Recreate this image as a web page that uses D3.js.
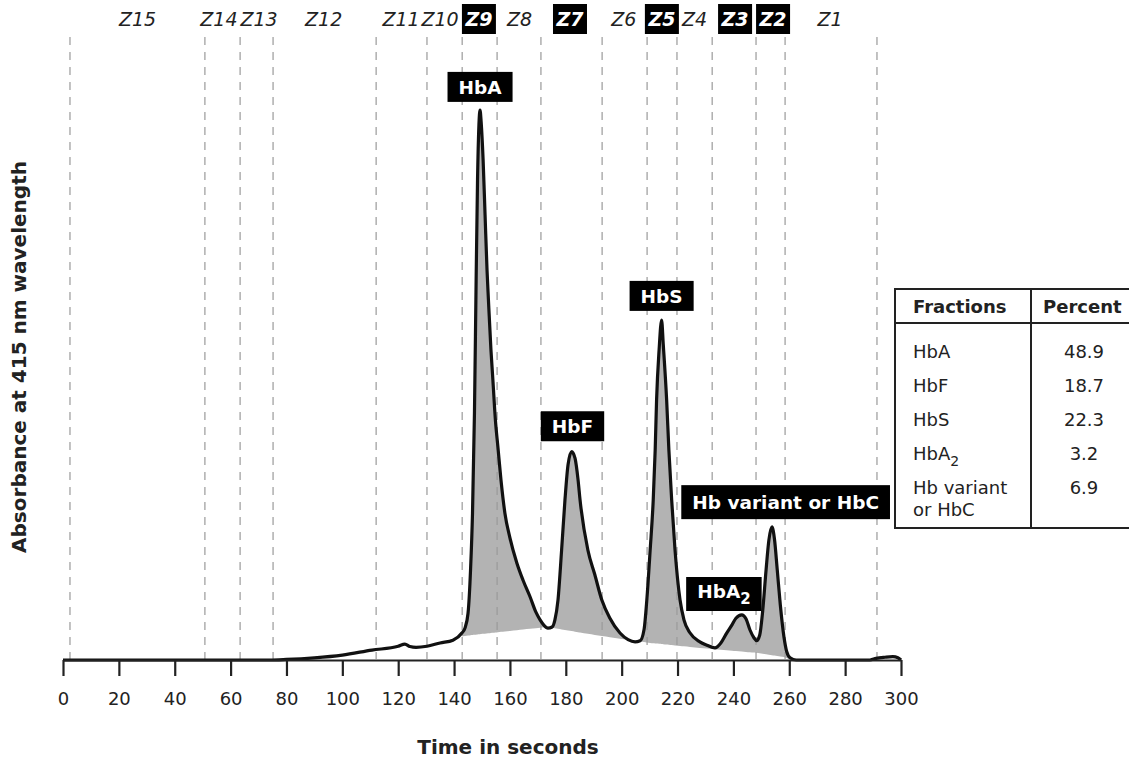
<!DOCTYPE html>
<html>
<head>
<meta charset="utf-8">
<script src="https://cdn.jsdelivr.net/npm/d3@7"></script>
<style>
  body { margin: 0; background: #fff; }
  svg { display: block; font-family: "DejaVu Sans", Verdana, sans-serif; }
</style>
</head>
<body>
<div id="chart"></div>
<script>
// Capillary electrophoresis trace.
const traceTime = [0, 74, 80, 90, 100, 110.6, 120, 122.4, 124.2, 126.4, 130.3, 135, 139.6,
  142.8, 143.9, 145.0, 145.9, 146.6, 147.3, 147.9, 148.4, 148.9, 149.3, 149.7, 150.4, 151.1,
  151.8, 152.3, 153.2, 153.9, 154.8, 155.7, 156.8, 158.2, 160.0, 162.5, 164.7, 167.2, 169.3,
  170.8, 172.2, 173.6, 175.1, 176.1, 177.2, 178.5, 179.7, 180.8, 182.1, 183.3, 184.4, 185.1,
  187.9, 190.4, 192.9, 195.8, 199.4, 202.3, 204.8, 206.6, 208.0, 209.0, 210.2, 211.3, 212.0,
  212.5, 213.4, 214.3, 214.9, 216.1, 216.9, 217.9, 219.1, 220.9, 222.3, 224.5, 228.0, 230.5,
  233.4, 235.5, 237.6, 239.5, 240.9, 243.0, 244.5, 245.9, 247.4, 248.3, 249.4, 250.5, 251.7,
  252.7, 253.8, 254.7, 255.7, 256.8, 258.1, 259.1, 260.3, 262.5, 288.9, 291.1, 294.3, 297.1,
  298.9, 300];
const traceAbs = [0, 0, 0.1, 0.4, 0.9, 1.8, 2.5, 2.9, 2.45, 2.3, 2.5, 3.1, 3.6,
  4.9, 5.8, 8.5, 16.4, 26.7, 44.9, 69.1, 87.3, 97.3, 100, 97.8, 90.9, 80.9,
  70.9, 65.5, 56.4, 50.9, 43.6, 38.7, 32.7, 26.7, 22.2, 17.6, 14.5, 11.5, 8.7,
  7.3, 6.3, 5.8, 6.0, 7.3, 10.9, 20.0, 29.1, 35.5, 37.9, 36.7, 32.7, 29.1,
  20.0, 15.5, 10.9, 7.6, 4.9, 3.7, 3.3, 3.5, 5.5, 10.9, 20.0, 29.1, 38.2,
  47.3, 56.4, 61.8, 57.3, 47.3, 38.2, 29.1, 20.0, 10.9, 7.3, 4.9, 3.3, 2.7,
  2.2, 3.1, 4.9, 6.4, 7.6, 8.2, 7.5, 5.5, 4.0, 3.5, 4.5, 9.0, 16.4,
  21.8, 24.2, 22.0, 16.4, 10.0, 4.2, 1.5, 0.4, 0, 0, 0.3, 0.5, 0.6,
  0.4, 0];

// lower edge of the grey integrated area
const shadeTime = [142.5, 156.4, 173.3, 192.3, 210.2, 228.0, 248.5, 258.5, 260.8];
const shadeAbs = [4.3, 5.1, 6.0, 4.4, 3.1, 2.2, 1.3, 0.5, 0];

const zoneBounds = [2.5, 50.8, 63.4, 75.2, 112.1, 130.3, 142.9, 155.4, 171.1, 193.0,
  209.1, 219.8, 232.4, 248.1, 258.5, 291.4];
const zoneNames = ["Z15", "Z14", "Z13", "Z12", "Z11", "Z10", "Z9", "Z8", "Z7", "Z6",
  "Z5", "Z4", "Z3", "Z2", "Z1"];
const zoneLabelTime = [26.7, 55.8, 70.2, 93.3, 121.0, 135.0, 148.9, 163.4, 181.5, 200.8,
  214.4, 226.1, 240.6, 254.2, 274.6];
const zoneHighlighted = ["Z9", "Z7", "Z5", "Z3", "Z2"];

const peakNames = ["HbA", "HbF", "HbS", "HbA2", "Hb variant or HbC"];
const peakLabelTime = [149.3, 182.4, 214.3, 236.6, 258.7];
const peakLabelAbs = [104.2, 42.5, 66.2, 12.0, 28.7];

const fractionNames = ["HbA", "HbF", "HbS", "HbA2", "Hb variant|or HbC"];
const fractionPercents = ["48.9", "18.7", "22.3", "3.2", "6.9"];

const xTicks = d3.range(0, 301, 20);

const W = 1129, H = 762;
const x = d3.scaleLinear().domain([0, 300]).range([63, 901]);
const y = d3.scaleLinear().domain([0, 100]).range([660, 110]);

const svg = d3.select("#chart").append("svg").attr("width", W).attr("height", H);

const trace = traceTime.map((t, i) => ({ t, v: traceAbs[i] }));
const lower = d3.scaleLinear().domain(shadeTime).range(shadeAbs).clamp(true);

function zoneLines() {
  svg.append("g").selectAll("line").data(zoneBounds).join("line")
    .attr("x1", d => x(d)).attr("x2", d => x(d))
    .attr("y1", 37).attr("y2", 659)
    .attr("stroke", "#9a9a9a").attr("stroke-width", 1.2)
    .attr("stroke-dasharray", "8,7");
}

// grey area under the peaks, dashes go on top of it
const shaded = trace.filter(d => d.t >= shadeTime[0] && d.t <= shadeTime[shadeTime.length - 1]);
svg.append("path")
  .datum(shaded)
  .attr("fill", "#b3b3b3")
  .attr("d", d3.area().curve(d3.curveMonotoneX)
    .x(d => x(d.t))
    .y0(d => y(Math.min(lower(d.t), d.v)))
    .y1(d => y(d.v)));
zoneLines();

svg.append("path")
  .datum(trace)
  .attr("fill", "none")
  .attr("stroke", "#111")
  .attr("stroke-width", 3.2)
  .attr("stroke-linejoin", "round")
  .attr("d", d3.line().curve(d3.curveMonotoneX).x(d => x(d.t)).y(d => y(d.v)));

// x axis
const ax = svg.append("g").attr("transform", "translate(0,660)")
  .call(d3.axisBottom(x).tickValues(xTicks).tickSize(16).tickPadding(16).tickSizeOuter(0));
ax.select(".domain").attr("stroke", "#222").attr("stroke-width", 2.2);
ax.selectAll(".tick line").attr("stroke", "#222").attr("stroke-width", 2.2);
ax.selectAll(".tick text").attr("fill", "#222").attr("font-size", 18)
  .attr("font-family", "DejaVu Sans, sans-serif");

svg.append("text")
  .attr("x", 508).attr("y", 754)
  .attr("text-anchor", "middle")
  .attr("font-size", 20).attr("font-weight", "bold").attr("fill", "#222")
  .text("Time in seconds");

svg.append("text")
  .attr("transform", "translate(26,357) rotate(-90)")
  .attr("text-anchor", "middle")
  .attr("font-size", 20).attr("font-weight", "bold").attr("fill", "#222")
  .text("Absorbance at 415 nm wavelength");

// zone labels across the top
const zg = svg.append("g").selectAll("g").data(zoneNames).join("g")
  .attr("transform", (d, i) => `translate(${x(zoneLabelTime[i])},19)`);
zg.filter(d => zoneHighlighted.includes(d)).append("rect")
  .attr("x", -17).attr("y", -15).attr("width", 34).attr("height", 30)
  .attr("fill", "#000");
zg.append("text")
  .attr("text-anchor", "middle").attr("dy", "0.36em")
  .attr("font-size", 19).attr("font-style", "italic")
  .attr("font-weight", d => zoneHighlighted.includes(d) ? "bold" : "normal")
  .attr("fill", d => zoneHighlighted.includes(d) ? "#fff" : "#222")
  .text(d => d);

// peak labels
const pg = svg.append("g").selectAll("g").data(peakNames).join("g")
  .attr("transform", (d, i) => `translate(${x(peakLabelTime[i])},${y(peakLabelAbs[i])})`);
const pRect = pg.append("rect").attr("fill", "#000");
const pText = pg.append("text")
  .attr("text-anchor", "middle").attr("dy", "0.36em")
  .attr("font-size", 18.5).attr("font-weight", "bold").attr("fill", "#fff");
pText.each(function (d) {
  const t = d3.select(this);
  if (d === "HbA2") {
    t.attr("dy", "0.2em");
    t.append("tspan").text("HbA");
    t.append("tspan").attr("font-size", 15).attr("dy", 6).text("2");
  } else {
    t.text(d);
  }
});
pRect.each(function (d, i) {
  const w = pText.nodes()[i].getComputedTextLength() + 22;
  const h = d === "HbA2" || d.length > 5 ? 34 : 30;
  d3.select(this).attr("x", -w / 2).attr("y", -h / 2).attr("width", w).attr("height", h);
});

// fractions table
const tb = svg.append("g");
tb.append("rect").attr("x", 895).attr("y", 289).attr("width", 250).attr("height", 239)
  .attr("fill", "#fff").attr("stroke", "#222").attr("stroke-width", 2);
tb.append("line").attr("x1", 895).attr("x2", 1140).attr("y1", 323).attr("y2", 323)
  .attr("stroke", "#222").attr("stroke-width", 2);
tb.append("line").attr("x1", 1031).attr("x2", 1031).attr("y1", 289).attr("y2", 528)
  .attr("stroke", "#222").attr("stroke-width", 2);
tb.append("text").attr("x", 913).attr("y", 307).attr("dy", "0.36em")
  .attr("font-size", 18).attr("font-weight", "bold").attr("fill", "#222").text("Fractions");
tb.append("text").attr("x", 1043).attr("y", 307).attr("dy", "0.36em")
  .attr("font-size", 18).attr("font-weight", "bold").attr("fill", "#222").text("Percent");

const rows = tb.append("g").selectAll("g").data(fractionNames).join("g")
  .attr("transform", (d, i) => `translate(0,${352 + i * 34})`);
rows.append("text").attr("x", 913)
  .attr("font-size", 18).attr("fill", "#222")
  .each(function (d) {
    const t = d3.select(this);
    if (d === "HbA2") {
      t.append("tspan").attr("dy", "0.36em").text("HbA");
      t.append("tspan").attr("font-size", 14).attr("dy", 6).text("2");
    } else {
      d.split("|").forEach((part, k) => {
        t.append("tspan").attr("x", 913).attr("dy", k ? 22 : "0.36em").text(part);
      });
    }
  });
rows.append("text").attr("x", 1084).attr("dy", "0.36em")
  .attr("text-anchor", "middle").attr("font-size", 18).attr("fill", "#222")
  .text((d, i) => fractionPercents[i]);
</script>
</body>
</html>
